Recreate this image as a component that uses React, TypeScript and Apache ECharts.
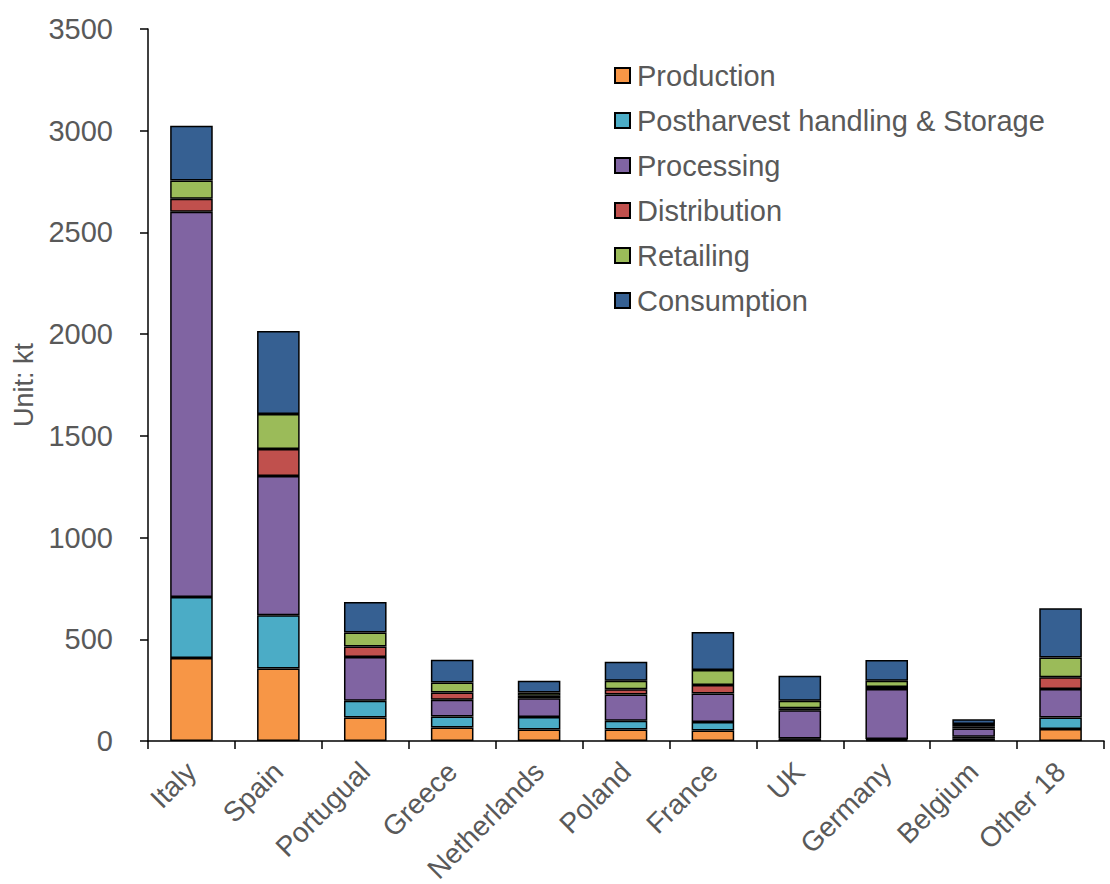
import React, { useEffect, useRef } from "react";
import * as echarts from "echarts";

const categories = ["Italy", "Spain", "Portugual", "Greece", "Netherlands", "Poland", "France", "UK", "Germany", "Belgium", "Other 18"];
const production = [408, 356, 115, 66, 57, 56, 52, 8, 6, 11, 59];
const postharvest = [300, 262, 83, 54, 61, 44, 41, 4, 4, 10, 56];
const processing = [1894, 685, 215, 83, 92, 128, 141, 139, 246, 41, 141];
const distribution = [64, 133, 52, 35, 12, 26, 41, 10, 10, 10, 57];
const retailing = [89, 172, 68, 49, 17, 42, 74, 37, 30, 12, 98];
const consumption = [269, 408, 150, 113, 57, 94, 187, 123, 102, 23, 241];
const yTicks = [0, 500, 1000, 1500, 2000, 2500, 3000, 3500];

const seriesNames = ["Production", "Postharvest handling & Storage", "Processing", "Distribution", "Retailing", "Consumption"];
const seriesData = [production, postharvest, processing, distribution, retailing, consumption];
const colors = ["#F79646", "#4BACC6", "#8064A2", "#C0504D", "#9BBB59", "#366092"];

const FONT = "'Liberation Sans', Arial, sans-serif";

export default function App() {
  const ref = useRef<HTMLDivElement>(null);
  useEffect(() => {
    const chart = echarts.init(ref.current!, null, { renderer: "svg" });
    chart.setOption({
      animation: false,
      textStyle: { fontFamily: FONT },
      grid: { left: 148, right: 6, top: 29, bottom: 143, containLabel: false, outerBoundsMode: "none" },
      legend: {
        orient: "vertical",
        left: 609,
        top: 56,
        itemWidth: 15,
        itemHeight: 15,
        itemGap: 16,
        icon: "rect",
        data: seriesNames,
        textStyle: { fontSize: 29, color: "#595959", fontFamily: FONT, lineHeight: 29, padding: [0, 0, 0, 2] },
      },
      xAxis: {
        type: "category",
        data: categories,
        axisLine: { lineStyle: { color: "#000", width: 1.5 } },
        axisTick: { show: true, alignWithLabel: false, length: 8, lineStyle: { color: "#000", width: 1.5 } },
        axisLabel: { rotate: 45, fontSize: 28, color: "#595959", fontFamily: FONT, margin: 26, interval: 0 },
      },
      yAxis: {
        type: "value",
        min: yTicks[0],
        max: yTicks[yTicks.length - 1],
        interval: yTicks[1] - yTicks[0],
        name: "Unit: kt",
        nameLocation: "middle",
        nameGap: 107,
        nameTextStyle: { fontSize: 27, color: "#595959", fontFamily: FONT },
        splitLine: { show: false },
        axisLine: { show: true, lineStyle: { color: "#000", width: 1.5 } },
        axisTick: { show: true, length: 8, lineStyle: { color: "#000", width: 1.5 } },
        axisLabel: { fontSize: 29, color: "#595959", fontFamily: FONT, margin: 35, formatter: (v: number) => String(v) },
      },
      series: seriesNames.map((name, i) => ({
        name,
        type: "bar",
        stack: "total",
        barWidth: "49%",
        data: seriesData[i],
        itemStyle: { color: colors[i], borderColor: "#000", borderWidth: 1.5 },
      })),
    });
    return () => chart.dispose();
  }, []);
  return <div ref={ref} style={{ position: "absolute", left: 0, top: 0, width: 1110, height: 884 }} />;
}
